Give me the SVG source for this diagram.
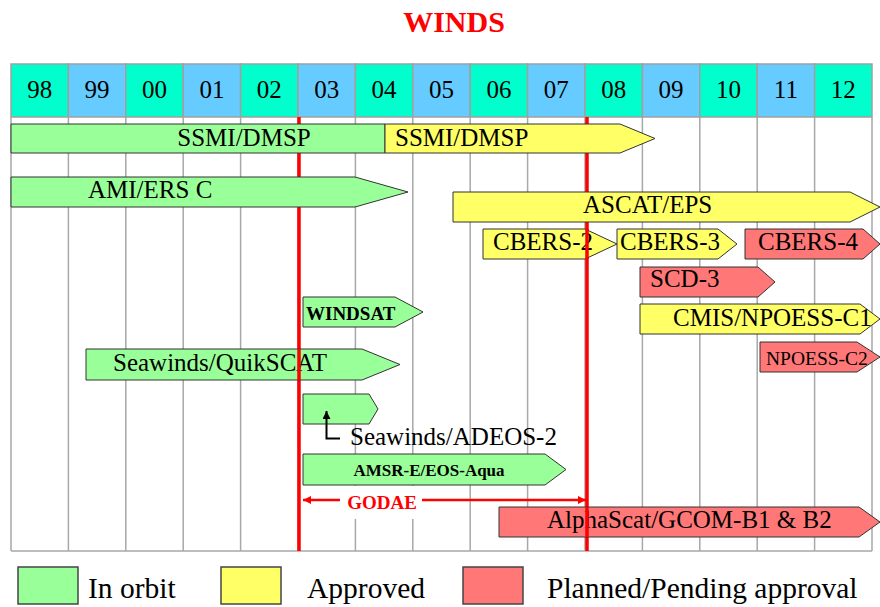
<svg xmlns="http://www.w3.org/2000/svg" width="880" height="607" viewBox="0 0 880 607">
<defs>
<style>
.t{font-family:"Liberation Serif","Times New Roman",serif;fill:#000}
.hd{font-size:25px;text-anchor:middle}
.lb{font-size:25px}
.bd{font-weight:bold}
.cy{fill:#00FFCC;stroke:#A0A0A0;stroke-width:1.5}
.bl{fill:#66CCFF;stroke:#A0A0A0;stroke-width:1.5}
.grid{stroke:#A8A8A8;stroke-width:1.5;fill:none}
.g{fill:#99FF99;stroke:#333;stroke-width:1}
.y{fill:#FFFF66;stroke:#333;stroke-width:1}
.r{fill:#FF7777;stroke:#333;stroke-width:1}
.red{stroke:#FF0000;stroke-width:3.5}
.lg{font-size:29.5px}
</style>
<marker id="ah" viewBox="0 0 10 10" refX="10" refY="5" markerWidth="10" markerHeight="8" markerUnits="userSpaceOnUse" orient="auto-start-reverse"><path d="M0,0 L10,5 L0,10 z" fill="#FF0000"/></marker>
<marker id="ak" viewBox="0 0 10 10" refX="10" refY="5" markerWidth="10" markerHeight="8" markerUnits="userSpaceOnUse" orient="auto"><path d="M0,0 L10,5 L0,10 z" fill="#000"/></marker>
</defs>
<rect width="880" height="607" fill="#fff"/>
<text class="t bd" x="454" y="32" font-size="30" text-anchor="middle" style="fill:#FF0000">WINDS</text>

<g id="header">
<rect class="cy" x="11" y="64" width="57.4" height="53"/>
<rect class="bl" x="68.4" y="64" width="57.4" height="53"/>
<rect class="cy" x="125.8" y="64" width="57.4" height="53"/>
<rect class="bl" x="183.2" y="64" width="57.4" height="53"/>
<rect class="cy" x="240.6" y="64" width="57.4" height="53"/>
<rect class="bl" x="298" y="64" width="57.4" height="53"/>
<rect class="cy" x="355.4" y="64" width="57.4" height="53"/>
<rect class="bl" x="412.8" y="64" width="57.4" height="53"/>
<rect class="cy" x="470.2" y="64" width="57.4" height="53"/>
<rect class="bl" x="527.6" y="64" width="57.4" height="53"/>
<rect class="cy" x="585" y="64" width="57.4" height="53"/>
<rect class="bl" x="642.4" y="64" width="57.4" height="53"/>
<rect class="cy" x="699.8" y="64" width="57.4" height="53"/>
<rect class="bl" x="757.2" y="64" width="57.4" height="53"/>
<rect class="cy" x="814.6" y="64" width="57.4" height="53"/>
<text class="t hd" x="39.7" y="98">98</text>
<text class="t hd" x="97.1" y="98">99</text>
<text class="t hd" x="154.5" y="98">00</text>
<text class="t hd" x="211.9" y="98">01</text>
<text class="t hd" x="269.3" y="98">02</text>
<text class="t hd" x="326.7" y="98">03</text>
<text class="t hd" x="384.1" y="98">04</text>
<text class="t hd" x="441.5" y="98">05</text>
<text class="t hd" x="498.9" y="98">06</text>
<text class="t hd" x="556.3" y="98">07</text>
<text class="t hd" x="613.7" y="98">08</text>
<text class="t hd" x="671.1" y="98">09</text>
<text class="t hd" x="728.5" y="98">10</text>
<text class="t hd" x="785.9" y="98">11</text>
<text class="t hd" x="843.3" y="98">12</text>
</g>

<g id="grid">
<path class="grid" d="M11,117V551 M68.4,117V551 M125.8,117V551 M183.2,117V551 M240.6,117V551 M298,117V551 M355.4,117V551 M412.8,117V551 M470.2,117V551 M527.6,117V551 M585,117V551 M642.4,117V551 M699.8,117V551 M757.2,117V551 M814.6,117V551 M872,117V551 M11,551H872"/>
</g>

<g id="godae-mask"><rect x="341" y="486" width="80" height="33" fill="#fff"/></g>

<g id="connectors">
<line class="red" x1="299" y1="117" x2="299" y2="551"/>
<line class="red" x1="587" y1="117" x2="587" y2="551"/>
</g>

<g id="ssmi-green"><polygon class="g" points="11,124 385,124 385,153 11,153"/><text class="t lb" x="244" y="146" text-anchor="middle">SSMI/DMSP</text></g>
<g id="ssmi-yellow"><polygon class="y" points="385,124 620,124 655,138.5 620,153 385,153"/><text class="t lb" x="395" y="146">SSMI/DMSP</text></g>
<g id="ami-ers"><polygon class="g" points="11,177 355,177 408,192 355,207 11,207"/><text class="t lb" x="88" y="197.5">AMI/ERS C</text></g>
<g id="ascat-eps"><polygon class="y" points="453,192 850,192 880,207 850,222 453,222"/><text class="t lb" x="583" y="213">ASCAT/EPS</text></g>

<g id="cbers-2"><polygon class="y" points="483,229 585,229 617,244 585,259 483,259"/><text class="t lb" x="493" y="250">CBERS-2</text></g>
<line class="red" x1="587" y1="229" x2="587" y2="259"/>
<g id="cbers-3"><polygon class="y" points="617,229 718,229 737,244 718,259 617,259"/><text class="t lb" x="620" y="250">CBERS-3</text></g>
<g id="cbers-4"><polygon class="r" points="745,229 863,229 880,244 863,259 745,259"/><text class="t lb" x="758" y="250">CBERS-4</text></g>
<g id="scd-3"><polygon class="r" points="640,267 758,267 775,282 758,297 640,297"/><text class="t lb" x="650" y="287">SCD-3</text></g>
<g id="windsat"><polygon class="g" points="303,297 395,297 423,312 395,327 303,327"/><text class="t bd" x="306" y="320" font-size="19">WINDSAT</text></g>
<g id="cmis"><polygon class="y" points="640,304 860,304 880,319 860,334 640,334"/><text class="t lb" x="673" y="326">CMIS/NPOESS-C1</text></g>
<g id="npoess-c2"><polygon class="r" points="760,342 857,342 880,357 857,372 760,372"/><text class="t" x="766" y="365" font-size="19.5">NPOESS-C2</text></g>
<g id="quikscat"><polygon class="g" points="86,349 362,349 400,364.5 362,380 86,380"/><text class="t lb" x="113" y="371">Seawinds/QuikSCAT</text></g>
<line class="red" x1="299" y1="349" x2="299" y2="380"/>
<g id="adeos-2"><polygon class="g" points="303,394 369,394 378,409 369,424 303,424"/>
<path d="M340,438.5H326.5V411" fill="none" stroke="#000" stroke-width="2" marker-end="url(#ak)"/>
<text class="t lb" x="350" y="445">Seawinds/ADEOS-2</text></g>
<g id="amsr-e"><polygon class="g" points="303,454 545,454 566,469.5 545,485 303,485"/><text class="t bd" x="429" y="476" font-size="17" text-anchor="middle">AMSR-E/EOS-Aqua</text></g>

<g id="godae">
<line x1="340" y1="500" x2="303" y2="500" stroke="#FF0000" stroke-width="2.5" marker-end="url(#ah)"/>
<line x1="422" y1="500" x2="586" y2="500" stroke="#FF0000" stroke-width="2.5" marker-end="url(#ah)"/>
<text class="t bd" x="382" y="509" font-size="19" text-anchor="middle" style="fill:#FF0000">GODAE</text>
</g>

<g id="alphascat"><polygon class="r" points="499,507 859,507 880,522 859,537 499,537"/><text class="t lb" x="547" y="528">AlphaScat/GCOM-B1 &amp; B2</text></g>
<line class="red" x1="587" y1="507" x2="587" y2="537"/>

<g id="legend">
<rect class="g" x="18" y="567" width="60" height="37" style="stroke:#444;stroke-width:1.5"/>
<text class="t lg" x="88" y="598">In orbit</text>
<rect class="y" x="221" y="567" width="60" height="37" style="stroke:#444;stroke-width:1.5"/>
<text class="t lg" x="307" y="598">Approved</text>
<rect class="r" x="463" y="567" width="60" height="37" style="stroke:#444;stroke-width:1.5"/>
<text class="t lg" x="547" y="598">Planned/Pending approval</text>
</g>
</svg>
